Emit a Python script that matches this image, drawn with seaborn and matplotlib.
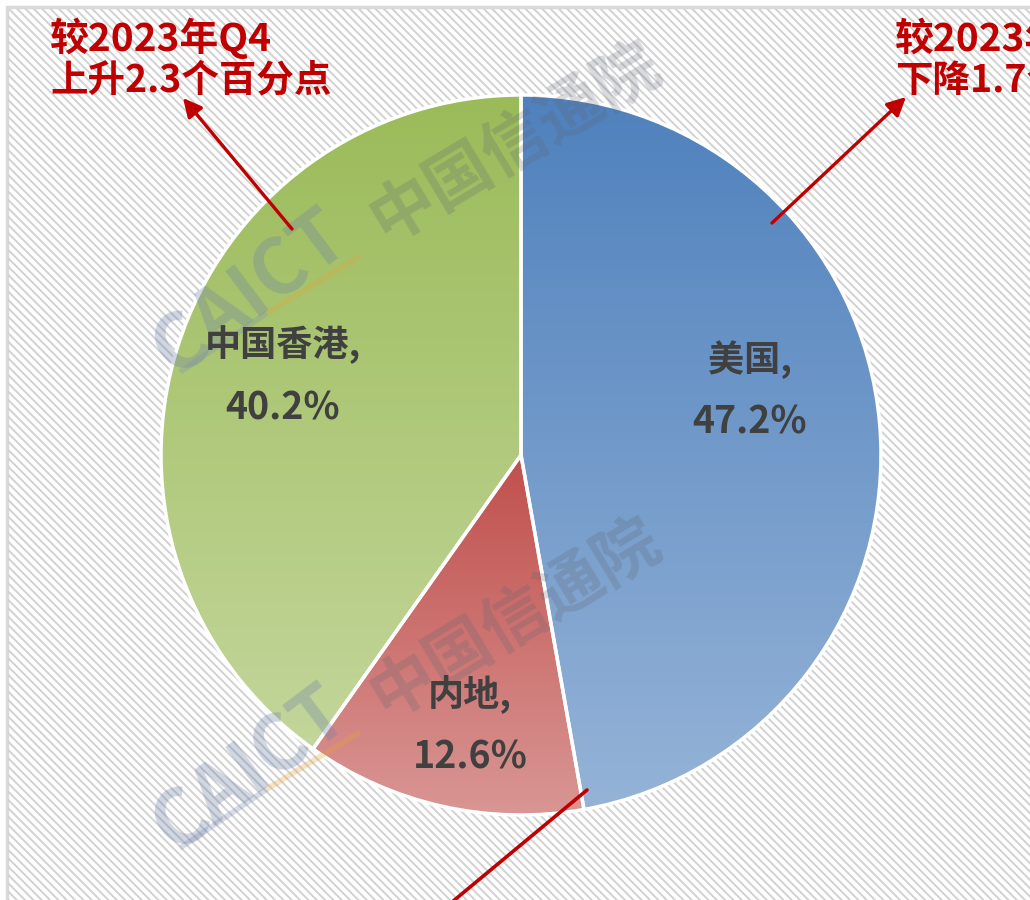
import numpy as np
import matplotlib
matplotlib.use("Agg")
import matplotlib.pyplot as plt
import seaborn as sns
from matplotlib.patches import Rectangle
from matplotlib.colors import LinearSegmentedColormap

# ---- data ----
regions = ["美国", "内地", "中国香港"]
shares = [47.2, 12.6, 40.2]
changes_left = ["较2023年Q4", "上升2.3个百分点"]
changes_right = ["较2023年Q4", "下降1.7个百分点"]

# ---- style ----
sns.set_theme(style="white")
plt.rcParams['font.family'] = ['Noto Sans CJK SC', 'DejaVu Sans']
plt.rcParams['hatch.linewidth'] = 1.4
plt.rcParams['hatch.color'] = "#d2d2d2"

top_colors = ["#4f81bd", "#c0504d", "#9bbb59"]
bot_colors = ["#95b3d7", "#d99694", "#c3d69b"]

W, H = 1030, 900
fig = plt.figure(figsize=(W / 100, H / 100), dpi=100)
ax = fig.add_axes([0, 0, 1, 1])

def Y(y):
    return H - y

cx, cy, R = 521, 455, 360
wedges, _ = ax.pie(shares, startangle=90, counterclock=False, center=(cx, Y(cy)),
                   radius=R, frame=True,
                   wedgeprops=dict(edgecolor="white", linewidth=2.5))
ax.set_xlim(0, W)
ax.set_ylim(0, H)
ax.set_aspect('equal')
ax.axis('off')

# background frame with hatching
bg = Rectangle((7, Y(915)), 1040, 908, facecolor="white", edgecolor="#d9d9d9",
               lw=2.5, zorder=0)
ax.add_patch(bg)
hatch = Rectangle((8, Y(915)), 1040, 906, facecolor="none", edgecolor="#d2d2d2",
                  lw=0, hatch="\\\\\\\\", zorder=0.5)
ax.add_patch(hatch)

for w, ct, cb in zip(wedges, top_colors, bot_colors):
    w.set_facecolor("none")
    w.set_zorder(3)
    ext = w.get_path().get_extents()
    cmap = LinearSegmentedColormap.from_list("g", [cb, ct])
    grad = np.linspace(0, 1, 256).reshape(-1, 1)
    im = ax.imshow(grad, cmap=cmap, origin="lower", aspect="auto",
                   extent=(ext.x0, ext.x1, ext.y0, ext.y1), zorder=2,
                   interpolation="bilinear")
    im.set_clip_path(w)

# watermarks (drawn above the pie, below the labels)
for dy in [0, 476]:
    ax.text(250, Y(292 + dy), "CAICT", rotation=37, rotation_mode="anchor",
            ha="center", va="center", fontsize=55, fontweight="bold",
            color="#6f80a8", alpha=0.32, zorder=5)
    ax.text(515, Y(142 + dy), "中国信通院", rotation=31, rotation_mode="anchor",
            ha="center", va="center", fontsize=47, fontweight="bold",
            color="#5e6470", alpha=0.24, zorder=5)
    ax.plot([180, 267], [Y(372 + dy), Y(313 + dy)], color="#7f8fb5",
            alpha=0.3, lw=4, zorder=5, solid_capstyle="butt")
    ax.plot([267, 360], [Y(313 + dy), Y(256 + dy)], color="#e8a33a",
            alpha=0.3, lw=4, zorder=5, solid_capstyle="butt")

# labels
label_pos = {"美国": (750, 360, 422), "内地": (470, 695, 757), "中国香港": (283, 345, 408)}
for name, val in zip(regions, shares):
    x, y1, y2 = label_pos[name]
    ax.text(x, Y(y1), f"{name},", ha="center", va="center", fontsize=26,
            fontweight="bold", color="#404040", zorder=6)
    ax.text(x, Y(y2), f"{val:.1f}%", ha="center", va="center", fontsize=27,
            fontweight="bold", color="#404040", zorder=6)

red = "#c00000"
# left annotation
ax.text(50, Y(38), changes_left[0], ha="left", va="center", fontsize=28,
        fontweight="bold", color=red, zorder=7)
ax.text(50, Y(80), changes_left[1], ha="left", va="center", fontsize=27,
        fontweight="bold", color=red, zorder=7)
ax.annotate("", xy=(183, Y(98)), xytext=(292, Y(229)),
            arrowprops=dict(arrowstyle="-|>", color=red, lw=2.4, mutation_scale=28,
                            shrinkA=0, shrinkB=0), zorder=7)
# right annotation (runs past the right edge, as in the source)
ax.text(895, Y(38), changes_right[0], ha="left", va="center", fontsize=28,
        fontweight="bold", color=red, zorder=7, clip_on=True)
ax.text(895, Y(80), changes_right[1], ha="left", va="center", fontsize=27,
        fontweight="bold", color=red, zorder=7, clip_on=True)
ax.annotate("", xy=(906, Y(97)), xytext=(772, Y(223)),
            arrowprops=dict(arrowstyle="-|>", color=red, lw=2.4, mutation_scale=28,
                            shrinkA=0, shrinkB=0), zorder=7)
# bottom annotation line (its text lies beyond the visible area)
ax.plot([587, 440], [Y(790), Y(912)], color=red, lw=2.6, zorder=7)

fig.savefig("out.png", dpi=100)
